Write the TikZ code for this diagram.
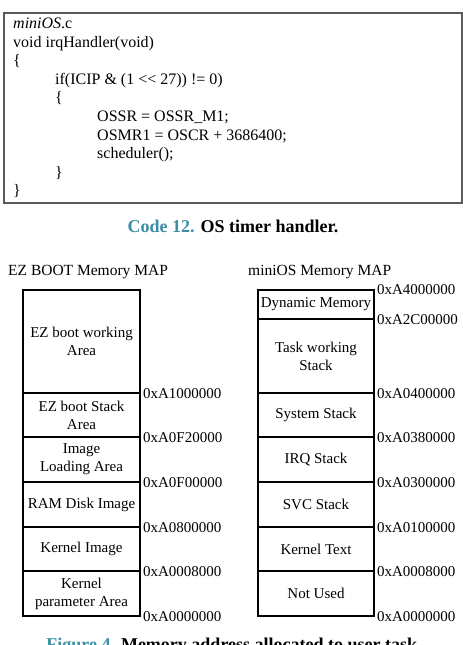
\documentclass[tikz,border=0pt]{standalone}
\usepackage{fontspec}
\setmainfont{Liberation Serif}
\usepackage{xcolor}
\usetikzlibrary{positioning}
\definecolor{captionteal}{HTML}{3B8EA5}
\definecolor{codeframe}{HTML}{5A5A5A}
\tikzset{
code frame/.style={
  draw=codeframe,
  line width=1.5pt,
  inner sep=0pt
},
code line/.style={anchor=base west, inner sep=0pt, font=\fontsize{16}{18.6}\selectfont},
map title/.style={anchor=base west, inner sep=0pt, font=\fontsize{15.5}{18}\selectfont},
mem region/.style={
  draw=black,
  line width=1.8pt,
  inner sep=0pt,
  align=center,
  font=\fontsize{15}{18}\selectfont
},
addr label/.style={anchor=west, inner sep=0pt, font=\fontsize{15}{18}\selectfont},
fig caption/.style={anchor=base, inner sep=0pt, font=\fontsize{18}{22}\selectfont\bfseries}
}

\begin{document}
\begin{tikzpicture}[x=1pt,y=-1pt]
\useasboundingbox (0,0) rectangle (463,645);
% code listing
\node[code frame, anchor=north west, minimum width=458pt, minimum height=190pt] (codebox) at (3,12) {};
\foreach \i/\ind/\txt in {0/0/{\textit{miniOS}.c},1/0/{void irqHandler(void)},2/0/{\{},3/42/{if(ICIP \& (1 <\kern0pt< 27)) != 0)},4/42/{\{},5/84/{OSSR = OSSR\_M1;},6/84/{OSMR1 = OSCR + 3686400;},7/84/{scheduler();},8/42/{\}},9/0/{\}}} {
\node[code line] (code\i) at (13+\ind, 28.5+\i*18.6) {\txt};
}
\node[fig caption] (codecap) at (233,232) {\textcolor{captionteal}{Code 12.} OS timer handler.};
% memory maps
\node[map title] (eztitle) at (8,275) {EZ BOOT Memory MAP};
\node[map title] (mostitle) at (248,275) {miniOS Memory MAP};
\foreach \n/\yt/\yb/\txt in {1/290/393/{EZ boot working\\Area},2/393/437/{EZ boot Stack\\Area},3/437/482/{Image\\Loading Area},4/482/527/{RAM Disk Image},5/527/571/{Kernel Image},6/571/616/{Kernel\\parameter Area}} {
\node[mem region, minimum width=117pt, minimum height={(\yb-\yt)*1pt}] (ez\n) at (81.5,{(\yt+\yb)/2}) {\txt};
}
\foreach \n/\yt/\yb/\txt in {1/290/319/{Dynamic Memory},2/319/393/{Task working\\Stack},3/393/437/{System Stack},4/437/482/{IRQ Stack},5/482/527/{SVC Stack},6/527/571/{Kernel Text},7/571/616/{Not Used}} {
\node[mem region, minimum width=116pt, minimum height={(\yb-\yt)*1pt}] (mos\n) at (316,{(\yt+\yb)/2}) {\txt};
}
\foreach \n/\addr in {1/0xA1000000,2/0xA0F20000,3/0xA0F00000,4/0xA0800000,5/0xA0008000,6/0xA0000000} {
\node[addr label] (ezaddr\n) at ([xshift=2pt]ez\n.south east) {\addr};
}
\node[addr label] (mosaddr0) at ([xshift=2pt]mos1.north east) {0xA4000000};
\foreach \n/\addr in {1/0xA2C00000,2/0xA0400000,3/0xA0380000,4/0xA0300000,5/0xA0100000,6/0xA0008000,7/0xA0000000} {
\node[addr label] (mosaddr\n) at ([xshift=2pt]mos\n.south east) {\addr};
}
\node[fig caption] (figcap) at (234,650) {\textcolor{captionteal}{Figure 4.} Memory address allocated to user task.};
\end{tikzpicture}
\end{document}
